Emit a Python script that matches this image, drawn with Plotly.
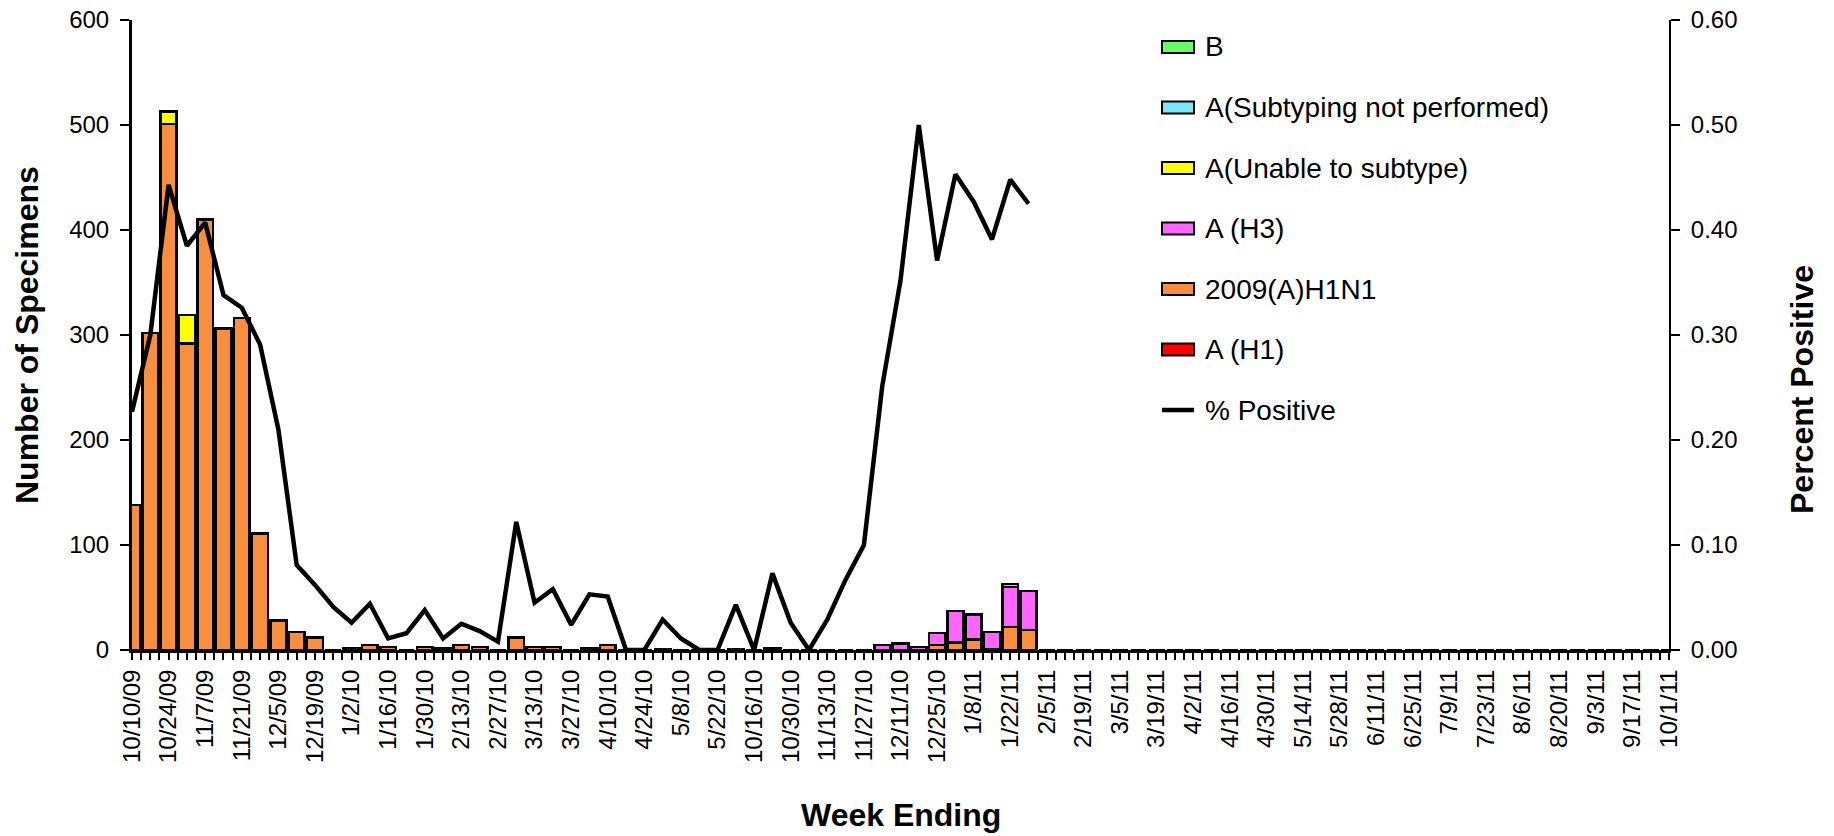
import plotly.graph_objects as go

# ---- categories (week ending) ----
weeks = ["10/10/09", "10/17/09", "10/24/09", "10/31/09", "11/7/09", "11/14/09", "11/21/09", "11/28/09",
         "12/5/09", "12/12/09", "12/19/09", "12/26/09", "1/2/10", "1/9/10", "1/16/10", "1/23/10",
         "1/30/10", "2/6/10", "2/13/10", "2/20/10", "2/27/10", "3/6/10", "3/13/10", "3/20/10",
         "3/27/10", "4/3/10", "4/10/10", "4/17/10", "4/24/10", "5/1/10", "5/8/10", "5/15/10",
         "5/22/10", "10/9/10", "10/16/10", "10/23/10", "10/30/10", "11/6/10", "11/13/10", "11/20/10",
         "11/27/10", "12/4/10", "12/11/10", "12/18/10", "12/25/10", "1/1/11", "1/8/11", "1/15/11",
         "1/22/11", "1/29/11", "2/5/11", "2/12/11", "2/19/11", "2/26/11", "3/5/11", "3/12/11",
         "3/19/11", "3/26/11", "4/2/11", "4/9/11", "4/16/11", "4/23/11", "4/30/11", "5/7/11",
         "5/14/11", "5/21/11", "5/28/11", "6/4/11", "6/11/11", "6/18/11", "6/25/11", "7/2/11",
         "7/9/11", "7/16/11", "7/23/11", "7/30/11", "8/6/11", "8/13/11", "8/20/11", "8/27/11",
         "9/3/11", "9/10/11", "9/17/11", "9/24/11", "10/1/11"]

# ---- series values (number of specimens) ----
a_h1 = [0] * 85
h1n1_2009 = [138, 302, 501, 292, 410, 306, 316, 111, 28, 17,
             12, 0, 2, 5, 3, 0, 3, 2, 5, 3,
             0, 12, 3, 3, 0, 2, 5, 0, 0, 1,
             0, 0, 0, 1, 0, 0, 0, 0, 0, 0,
             0, 0, 0, 0, 5, 7, 10, 1, 22, 19] + [0] * 35
a_h3 = [0] * 35 + [2, 0, 0, 0, 0, 0, 5, 6, 3, 11, 30, 24, 16, 38, 37] + [0] * 35
a_unable = [0, 0, 12, 27] + [0] * 81
a_not_subtyped = [0] * 85
b_type = [0] * 48 + [3] + [0] * 36

# ---- percent positive ----
pct_positive = [0.227, 0.300, 0.443, 0.385, 0.407, 0.338, 0.326, 0.291, 0.210, 0.081,
                0.062, 0.041, 0.026, 0.044, 0.011, 0.016, 0.038, 0.011, 0.025, 0.018,
                0.008, 0.122, 0.045, 0.058, 0.024, 0.053, 0.051, 0.0, 0.0, 0.029,
                0.011, 0.0, 0.0, 0.043, 0.0, 0.073, 0.026, 0.0, 0.029, 0.067,
                0.100, 0.251, 0.352, 0.500, 0.371, 0.453, 0.427, 0.391, 0.448, 0.425] + [None] * 35

# legend labels (top to bottom)
legend_labels = ["B", "A(Subtyping not performed)", "A(Unable to subtype)", "A (H3)",
                 "2009(A)H1N1", "A (H1)", "% Positive"]

x_idx = list(range(len(weeks)))
tick_idx = x_idx[::2]
tick_labels = weeks[::2]

FONT = "Liberation Sans, Arial, sans-serif"
COLORS = {"A (H1)": "#FF0000", "2009(A)H1N1": "#F98E3C", "A (H3)": "#FF66FF",
          "A(Unable to subtype)": "#FFFF00", "A(Subtyping not performed)": "#7AE8FA", "B": "#66FF66"}
series = [
    ("A (H1)", a_h1),
    ("2009(A)H1N1", h1n1_2009),
    ("A (H3)", a_h3),
    ("A(Unable to subtype)", a_unable),
    ("A(Subtyping not performed)", a_not_subtyped),
    ("B", b_type),
]

W, H = 1834, 836
PL, PR, PT, PB = 132, 1669, 20, 650   # plot area in pixels


def px(x):
    return (x - PL) / (PR - PL)


def py(y):
    return (PB - y) / (PB - PT)


fig = go.Figure()
for name, vals in series:
    fig.add_trace(go.Bar(
        x=x_idx, y=vals, name=name, showlegend=False,
        marker=dict(color=COLORS[name], line=dict(color="black", width=2.5)),
        yaxis="y",
    ))

fig.add_trace(go.Scatter(
    x=x_idx, y=pct_positive, name="% Positive", showlegend=False,
    mode="lines", line=dict(color="black", width=4.5), yaxis="y2", connectgaps=False,
))

# ---- manual legend (wide swatches as in the original) ----
shapes = []
annotations = []
for k, lab in enumerate(legend_labels):
    yc = 47 + 60.5 * k
    if lab in COLORS:
        shapes.append(dict(type="rect", xref="paper", yref="paper",
                           x0=px(1162), x1=px(1194), y0=py(yc + 6), y1=py(yc - 6),
                           fillcolor=COLORS[lab], line=dict(color="black", width=2)))
    else:
        shapes.append(dict(type="line", xref="paper", yref="paper",
                           x0=px(1162), x1=px(1194), y0=py(yc), y1=py(yc),
                           line=dict(color="black", width=4.5)))
    annotations.append(dict(text=lab, xref="paper", yref="paper", x=px(1203), y=py(yc),
                            xanchor="left", yanchor="middle", showarrow=False,
                            font=dict(size=28, family=FONT, color="black")))

# axis titles
annotations.append(dict(text="<b>Number of Specimens</b>", xref="paper", yref="paper",
                        x=px(27), y=0.5, textangle=-90, showarrow=False,
                        xanchor="center", yanchor="middle", font=dict(size=32, family=FONT)))
annotations.append(dict(text="<b>Percent Positive</b>", xref="paper", yref="paper",
                        x=px(1802), y=py(390), textangle=-90, showarrow=False,
                        xanchor="center", yanchor="middle", font=dict(size=32, family=FONT)))
annotations.append(dict(text="<b>Week Ending</b>", xref="paper", yref="paper",
                        x=0.5, y=py(815), showarrow=False,
                        xanchor="center", yanchor="middle", font=dict(size=32, family=FONT)))

fig.update_layout(
    width=W, height=H,
    barmode="stack", bargap=0.14,
    plot_bgcolor="white", paper_bgcolor="white",
    font=dict(family=FONT, color="black", size=24),
    margin=dict(l=PL, r=W - PR, t=PT, b=H - PB, autoexpand=False),
    showlegend=False,
    shapes=shapes,
    annotations=annotations,
    xaxis=dict(
        range=[0, 84], tickmode="array", tickvals=tick_idx, ticktext=tick_labels,
        tickangle=-90, ticks="outside", ticklen=7, tickwidth=2, tickcolor="black",
        showline=True, linecolor="black", linewidth=3, showgrid=False, zeroline=False,
        tickfont=dict(size=24), automargin=False,
        minor=dict(dtick=0.5, tick0=0, ticks="outside", ticklen=7, tickwidth=2, tickcolor="black"),
    ),
    yaxis=dict(
        range=[0, 600], dtick=100, ticks="outside", ticklen=9, tickwidth=2, tickcolor="black",
        showline=True, linecolor="black", linewidth=3, showgrid=False, zeroline=False,
        tickfont=dict(size=24), automargin=False, ticklabelstandoff=6,
    ),
    yaxis2=dict(
        range=[0, 0.6], dtick=0.1, tickformat=".2f", overlaying="y", side="right", anchor="x",
        ticks="outside", ticklen=9, tickwidth=2, tickcolor="black",
        showline=True, linecolor="black", linewidth=2, showgrid=False, zeroline=False,
        tickfont=dict(size=24), automargin=False, ticklabelstandoff=6,
    ),
)

fig.write_html(
    "out.html",
    config={"displayModeBar": False},
    post_script="document.body.style.margin='0';document.body.style.overflow='hidden';",
)
